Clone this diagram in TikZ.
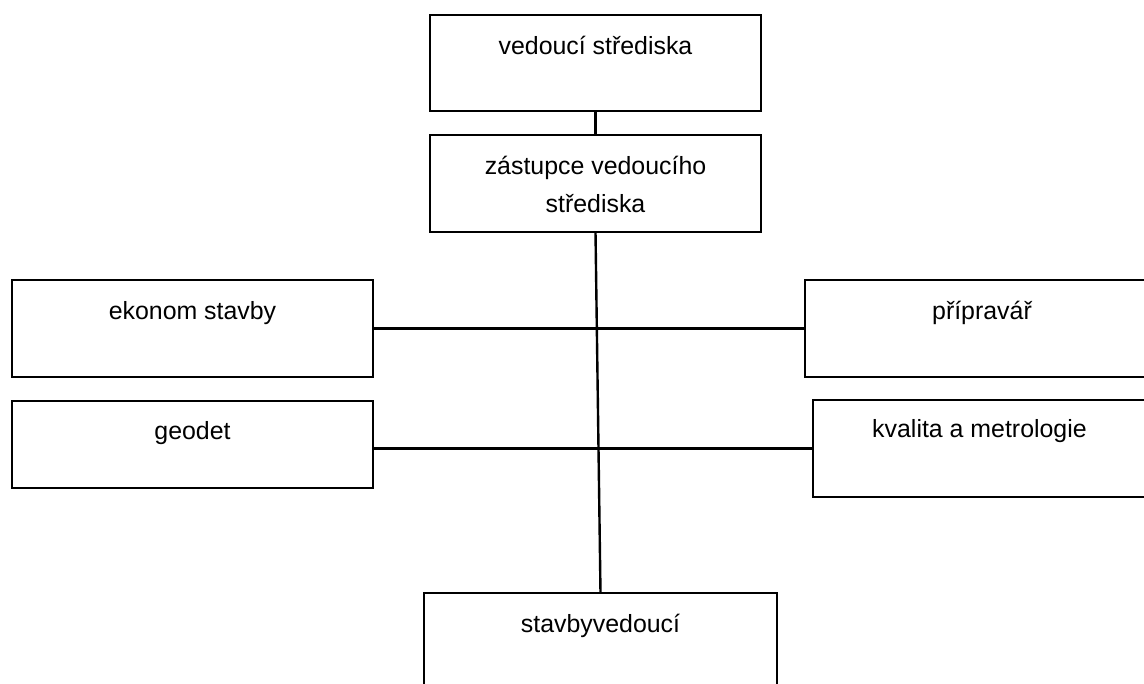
\documentclass[tikz,border=0pt]{standalone}
\usepackage{fontspec}
\setmainfont{Liberation Sans}
\usetikzlibrary{positioning}

\begin{document}
\begin{tikzpicture}[x=1pt, y=-1pt,
    box/.style={draw, line width=2.4pt, inner sep=0pt, outer sep=0pt},
    lbl/.style={inner sep=0pt, align=center, font=\fontsize{24.9}{38}\selectfont},
    link/.style={line width=2.4pt}]
  \useasboundingbox (0,0) rectangle (1144,684);
  \clip (0,0) rectangle (1144,684);

  % boxes
  \node[box, minimum width=331pt, minimum height=96pt] (ved) at (595.5, 63) {};
  \node[box, minimum width=331pt, minimum height=97pt] (zast) at (595.5, 183.5) {};
  \node[box, minimum width=361pt, minimum height=97pt] (ekon) at (192.5, 328.5) {};
  \node[box, minimum width=354pt, minimum height=97pt] (prip) at (982, 328.5) {};
  \node[box, minimum width=361pt, minimum height=87pt] (geod) at (192.5, 444.5) {};
  \node[box, minimum width=333pt, minimum height=97pt] (kval) at (979.5, 448.5) {};
  \node[box, minimum width=353pt, minimum height=97pt] (stav) at (600.5, 641.5) {};

  % texts (base = last line)
  \node[lbl, below=40pt of ved.north, anchor=base] (ved-t) {vedoucí střediska};
  \node[lbl, below=78pt of zast.north, anchor=base] (zast-t) {zástupce vedoucího\\střediska};
  \node[lbl, below=40pt of ekon.north, anchor=base] (ekon-t) {ekonom stavby};
  \node[lbl, below=40pt of prip.north, anchor=base] (prip-t) {přípravář};
  \node[lbl, below=39pt of geod.north, anchor=base] (geod-t) {geodet};
  \node[lbl, below=38pt of kval.north, anchor=base] (kval-t) {kvalita a metrologie};
  \node[lbl, below=39pt of stav.north, anchor=base] (stav-t) {stavbyvedoucí};

  % connectors
  \draw[link] (ved.south) -- (zast.north);
  \draw[link] (zast.south) -- (stav.north);
  \draw[link] (ekon.east) -- (prip.west);
  \draw[link] (geod.east |- kval.west) -- (kval.west);
\end{tikzpicture}
\end{document}
